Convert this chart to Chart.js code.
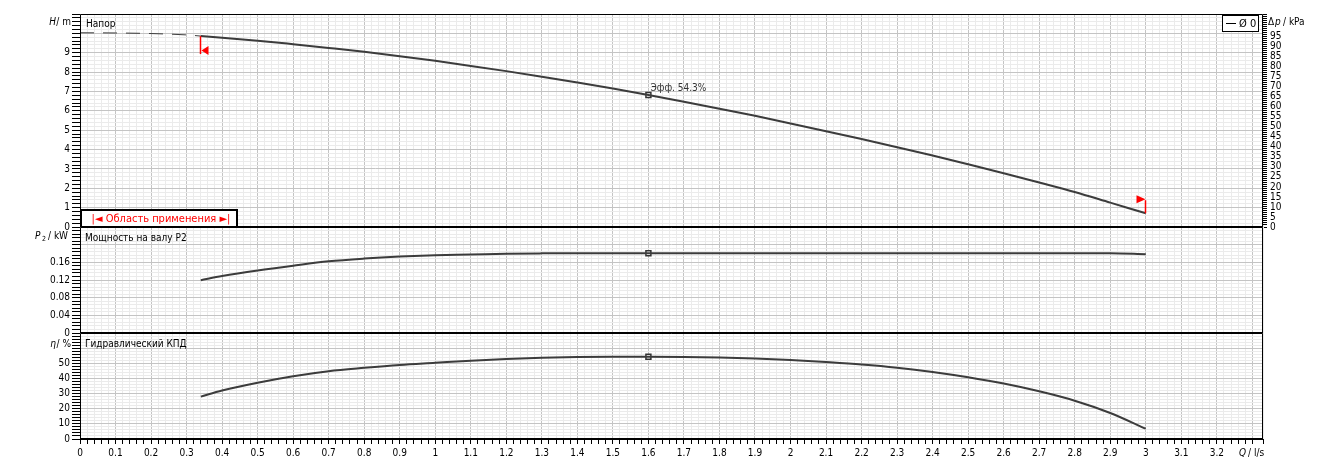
<!DOCTYPE html>
<html>
<head>
<meta charset="utf-8">
<script src="https://cdn.jsdelivr.net/npm/chart.js@4.4.0/dist/chart.umd.min.js"></script>
<style>
html, body { margin: 0; padding: 0; background: #fff; }
body { width: 1344px; height: 473px; position: relative; overflow: hidden; }
canvas { position: absolute; left: 0; }
</style>
</head>
<body>
<canvas id="headChart" width="1344" height="237" style="top:0px"></canvas>
<canvas id="powerChart" width="1344" height="126" style="top:217px"></canvas>
<canvas id="effChart" width="1344" height="150" style="top:323px"></canvas>
<script>
// pump curve data, Q in l/s
const flowPts = [0.34, 0.4, 0.5, 0.6, 0.7, 0.8, 0.9, 1.0, 1.1, 1.2, 1.3, 1.4, 1.5, 1.6,
                 1.7, 1.8, 1.9, 2.0, 2.1, 2.2, 2.3, 2.4, 2.5, 2.6, 2.7, 2.8, 2.9, 3.0];
const headVals = [9.86, 9.77, 9.62, 9.44, 9.25, 9.05, 8.82, 8.58, 8.32, 8.05, 7.76, 7.46, 7.15, 6.82,
                  6.47, 6.11, 5.74, 5.35, 4.95, 4.54, 4.12, 3.69, 3.24, 2.78, 2.30, 1.81, 1.26, 0.71];
const powerVals = [0.1195, 0.129, 0.1417, 0.1525, 0.1623, 0.1685, 0.173, 0.176, 0.1776, 0.1795, 0.1803, 0.1806, 0.1806, 0.1806,
                   0.1806, 0.1806, 0.1806, 0.1806, 0.1806, 0.1806, 0.1806, 0.1806, 0.1806, 0.1806, 0.1806, 0.1806, 0.1806, 0.1785];
const effVals = [28.0, 32.0, 37.2, 41.5, 44.8, 47.0, 48.9, 50.3, 51.7, 52.8, 53.6, 54.1, 54.3, 54.3,
                 54.2, 53.9, 53.2, 52.2, 50.8, 49.2, 47.1, 44.3, 40.8, 36.6, 31.5, 25.3, 17.2, 6.8];
// dashed part of head curve outside the working range
const extFlow = [0, 0.1, 0.2, 0.3, 0.34];
const extHead = [10.03, 10.02, 9.99, 9.92, 9.86];
// duty point
const opFlow = 1.6;
const opHead = 6.82;
const opPower = 0.1806;
const opEff = 54.3;

const FONT = '"Liberation Sans Narrow", "DejaVu Sans Condensed", "Liberation Sans", sans-serif';
const MAJOR = '#c4c4c4';
const MINOR = '#ebebeb';
const CURVE = '#3c3c3c';

Chart.defaults.font.family = FONT;
Chart.defaults.font.size = 10;
Chart.defaults.color = '#000';

const pts = (xs, ys) => xs.map((x, i) => ({ x: x, y: ys[i] }));
const isMajor = (v, step, every) => Math.round(v / step) % every === 0;

function xAxis(showLabels) {
    return {
        type: 'linear', min: 0, max: 3.33,
        ticks: {
            display: showLabels, stepSize: 0.02, autoSkip: false, maxRotation: 0, padding: 3,
            callback: v => (isMajor(v, 0.02, 5) && v < 3.25) ? String(Math.round(v * 10) / 10) : '',
        },
        grid: {
            color: c => isMajor(c.tick.value, 0.02, 5) ? MAJOR : MINOR,
            drawTicks: showLabels, tickLength: 5, tickColor: '#000',
        },
        border: { display: false },
        afterFit: s => { s.height = showLabels ? 34 : 0; },
    };
}

function yAxis(min, max, step, every, labelMax, fmt) {
    return {
        type: 'linear', position: 'left', min: min, max: max,
        ticks: {
            stepSize: step, autoSkip: false, padding: 2,
            callback: v => (isMajor(v, step, every) && v <= labelMax + 1e-9) ? fmt(v) : '',
        },
        grid: {
            color: c => isMajor(c.tick.value, step, every) ? MAJOR : MINOR,
            tickLength: 8, tickColor: '#000',
        },
        border: { display: false },
        afterFit: s => { s.width = 80; },
    };
}

function curveSet(data, width) {
    return {
        data: data, showLine: true, borderColor: CURVE, borderWidth: width,
        pointRadius: 0, cubicInterpolationMode: 'monotone', clip: false,
    };
}

function opSet(x, y) {
    return {
        data: [{ x: x, y: y }], showLine: false, pointStyle: 'rect', pointRadius: 3.5,
        backgroundColor: '#fff', borderColor: '#333', borderWidth: 1.5,
    };
}

function text(ctx, str, x, y, align, font, color) {
    ctx.save();
    ctx.font = font || ('10px ' + FONT);
    ctx.fillStyle = color || '#000';
    ctx.textAlign = align || 'left';
    ctx.textBaseline = 'middle';
    ctx.fillText(str, x, y);
    ctx.restore();
}

// frame around the plot area
const frame = {
    id: 'frame',
    afterDraw(chart) {
        const a = chart.chartArea, ctx = chart.ctx;
        const l = Math.round(a.left) + 0.5, r = Math.round(a.right) - 0.5;
        const t = Math.round(a.top) + 0.5, b = Math.round(a.bottom);
        ctx.save();
        ctx.strokeStyle = '#000';
        ctx.lineWidth = 1;
        ctx.beginPath();
        ctx.moveTo(l, b); ctx.lineTo(l, t); ctx.lineTo(r, t); ctx.lineTo(r, b);
        ctx.stroke();
        ctx.lineWidth = 2;
        ctx.beginPath(); ctx.moveTo(l - 0.5, b); ctx.lineTo(r + 0.5, b); ctx.stroke();
        ctx.restore();
    },
};

const baseOpts = (scales, padding) => ({
    responsive: false, animation: false, devicePixelRatio: 1,
    layout: { padding: padding },
    plugins: { legend: { display: false }, tooltip: { enabled: false } },
    scales: scales,
});

// ---- head ----
const headDeco = {
    id: 'headDeco',
    afterDraw(chart) {
        const ctx = chart.ctx, a = chart.chartArea;
        const xs = chart.scales.x, ys = chart.scales.y;
        // axis titles
        ctx.save();
        ctx.textBaseline = 'middle';
        ctx.textAlign = 'right';
        ctx.font = 'italic 10px ' + FONT;
        ctx.fillText('H', 56, 22);
        ctx.font = '10px ' + FONT;
        ctx.fillText('/ m', 71, 22);
        ctx.textAlign = 'left';
        ctx.fillText('Δ', 1268, 22);
        ctx.font = 'italic 10px ' + FONT;
        ctx.fillText('p', 1275, 22);
        ctx.font = '10px ' + FONT;
        ctx.fillText('/ kPa', 1283, 22);
        ctx.restore();
        text(ctx, 'Напор', a.left + 6, a.top + 10);

        // duty point label
        const px = xs.getPixelForValue(opFlow), py = ys.getPixelForValue(opHead);
        text(ctx, 'Эфф. ' + opEff.toFixed(1) + '%', px + 2, py - 7, 'left', '10px ' + FONT, '#333');

        // working range flags
        ctx.save();
        ctx.strokeStyle = '#f00'; ctx.fillStyle = '#f00'; ctx.lineWidth = 1.5;
        let fx = Math.round(xs.getPixelForValue(flowPts[0])) - 0.5;
        let fy = ys.getPixelForValue(headVals[0]);
        ctx.beginPath(); ctx.moveTo(fx, fy); ctx.lineTo(fx, fy + 18); ctx.stroke();
        ctx.beginPath(); ctx.moveTo(fx + 1, fy + 14.5); ctx.lineTo(fx + 8, fy + 10); ctx.lineTo(fx + 8, fy + 19); ctx.closePath(); ctx.fill();
        const n = flowPts.length - 1;
        fx = Math.round(xs.getPixelForValue(flowPts[n])) - 0.5;
        fy = ys.getPixelForValue(headVals[n]);
        ctx.beginPath(); ctx.moveTo(fx, fy); ctx.lineTo(fx, fy - 13); ctx.stroke();
        ctx.beginPath(); ctx.moveTo(fx - 9, fy - 18); ctx.lineTo(fx, fy - 14); ctx.lineTo(fx - 9, fy - 10); ctx.closePath(); ctx.fill();
        ctx.restore();

        // application range box
        ctx.save();
        ctx.fillStyle = '#fff';
        ctx.fillRect(a.left, a.bottom - 18, 157, 18);
        ctx.strokeStyle = '#000'; ctx.lineWidth = 2;
        ctx.strokeRect(a.left + 1, a.bottom - 17, 156, 17);
        ctx.restore();
        text(ctx, '|◄ Область применения ►|', a.left + 81, a.bottom - 8, 'center', '11px ' + FONT, '#f00');

        // legend box
        ctx.save();
        ctx.fillStyle = '#fff';
        ctx.fillRect(a.right - 41, a.top + 1, 37, 16);
        ctx.strokeStyle = '#000'; ctx.lineWidth = 1;
        ctx.strokeRect(a.right - 40.5, a.top + 1.5, 36, 16);
        ctx.beginPath(); ctx.moveTo(a.right - 37, a.top + 9.5); ctx.lineTo(a.right - 27, a.top + 9.5); ctx.stroke();
        ctx.restore();
        text(ctx, 'Ø 0', a.right - 24, a.top + 10, 'left', '11px ' + FONT);
    },
};

new Chart(document.getElementById('headChart'), {
    type: 'scatter',
    data: {
        datasets: [
            Object.assign(curveSet(pts(extFlow, extHead), 1), { borderDash: [14, 9] }),
            curveSet(pts(flowPts, headVals), 2),
            opSet(opFlow, opHead),
        ],
    },
    options: baseOpts({
        x: xAxis(false),
        y: yAxis(0, 11, 0.2, 5, 9, v => String(Math.round(v))),
        kpa: {
            type: 'linear', position: 'right', min: 0, max: 106.3,
            ticks: {
                stepSize: 1, autoSkip: false, padding: 3,
                callback: v => (v % 5 === 0 && v <= 95) ? String(v) : '',
            },
            grid: { drawOnChartArea: false, tickLength: 4, tickColor: '#000' },
            border: { display: false },
            afterFit: s => { s.width = 81; },
        },
    }, { top: 14, bottom: 10, left: 0, right: 0 }),
    plugins: [frame, headDeco],
});

// ---- shaft power ----
const powerDeco = {
    id: 'powerDeco',
    afterDraw(chart) {
        const ctx = chart.ctx, a = chart.chartArea;
        ctx.save();
        ctx.textBaseline = 'middle';
        ctx.textAlign = 'left';
        ctx.font = 'italic 10px ' + FONT;
        ctx.fillText('P', 35, 19);
        ctx.font = '7px ' + FONT;
        ctx.fillText('2', 42, 22);
        ctx.font = '10px ' + FONT;
        ctx.fillText('/ kW', 48, 19);
        ctx.restore();
        text(ctx, 'Мощность на валу P2', a.left + 5, a.top + 11);
    },
};

new Chart(document.getElementById('powerChart'), {
    type: 'scatter',
    data: {
        datasets: [
            curveSet(pts(flowPts, powerVals), 2),
            opSet(opFlow, opPower),
        ],
    },
    options: baseOpts({
        x: xAxis(false),
        y: yAxis(0, 0.24, 0.008, 5, 0.16, v => v === 0 ? '0' : v.toFixed(2)),
    }, { top: 10, bottom: 10, left: 0, right: 81 }),
    plugins: [frame, powerDeco],
});

// ---- efficiency ----
const effDeco = {
    id: 'effDeco',
    afterDraw(chart) {
        const ctx = chart.ctx, a = chart.chartArea;
        ctx.save();
        ctx.textBaseline = 'middle';
        ctx.textAlign = 'right';
        ctx.font = 'italic 10px ' + FONT;
        ctx.fillText('η', 56, 21);
        ctx.font = '10px ' + FONT;
        ctx.fillText('/ %', 71, 21);
        ctx.textAlign = 'left';
        ctx.font = 'italic 10px ' + FONT;
        ctx.fillText('Q', 1239, 130);
        ctx.font = '10px ' + FONT;
        ctx.fillText('/ l/s', 1248, 130);
        ctx.restore();
        text(ctx, 'Гидравлический КПД', a.left + 5, a.top + 11);
    },
};

new Chart(document.getElementById('effChart'), {
    type: 'scatter',
    data: {
        datasets: [
            curveSet(pts(flowPts, effVals), 2),
            opSet(opFlow, opEff),
        ],
    },
    options: baseOpts({
        x: xAxis(true),
        y: yAxis(0, 70, 2, 5, 50, v => String(Math.round(v))),
    }, { top: 10, bottom: 0, left: 0, right: 81 }),
    plugins: [frame, effDeco],
});
</script>
</body>
</html>
